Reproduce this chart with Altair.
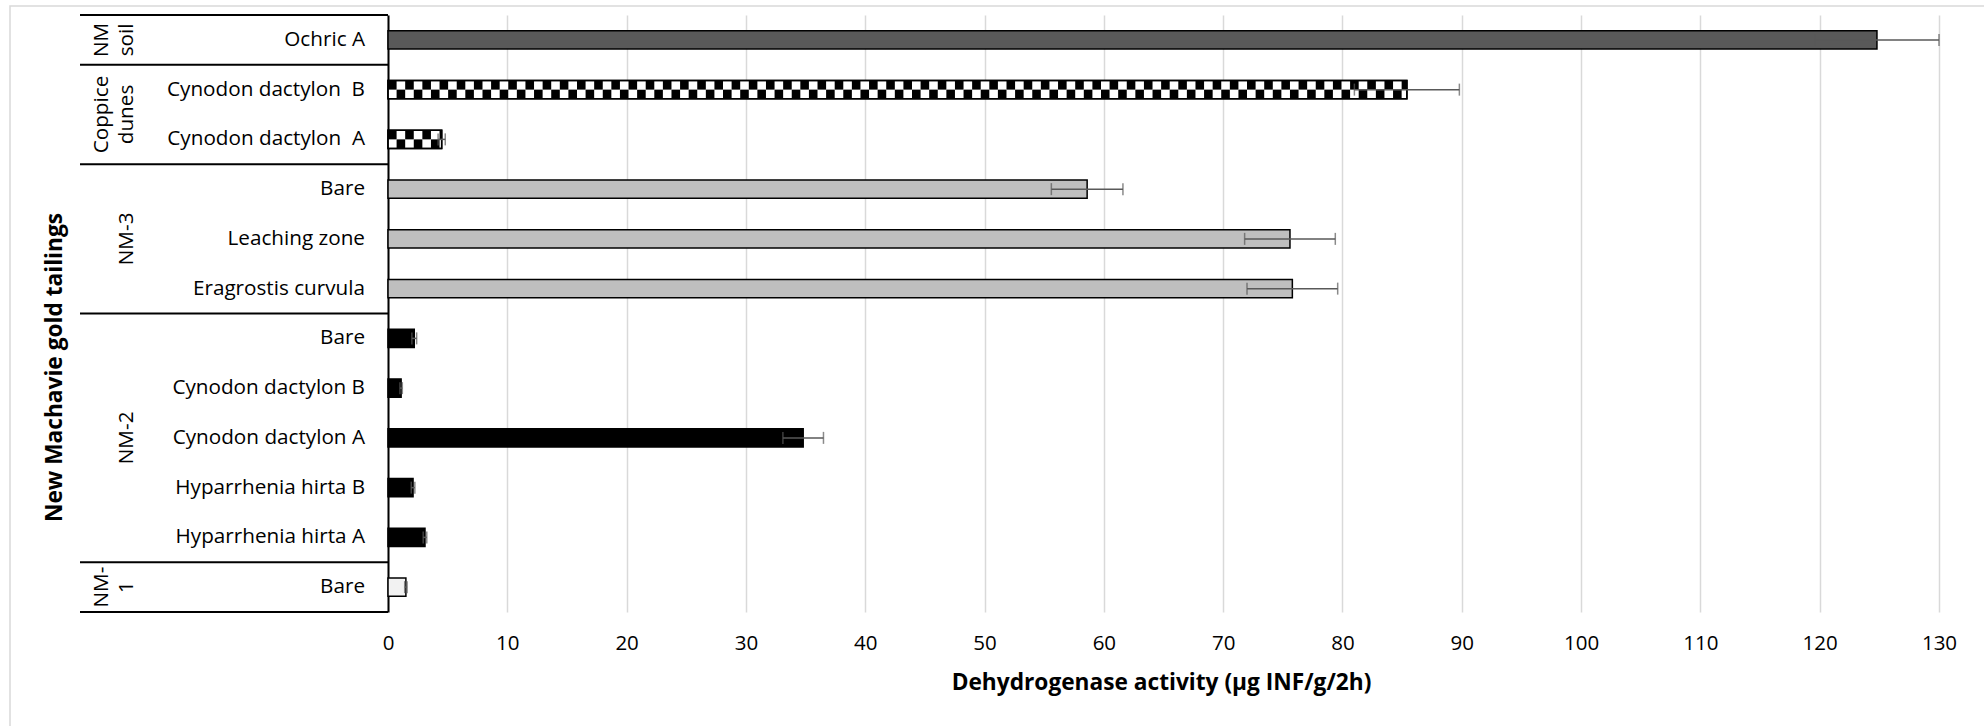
import math
import altair as alt
import pandas as pd

# ---------------- data ----------------
groups = ["NM soil", "Coppice dunes", "Coppice dunes", "NM-3", "NM-3", "NM-3",
          "NM-2", "NM-2", "NM-2", "NM-2", "NM-2", "NM-1"]
labels = ["Ochric A", "Cynodon dactylon\u00a0 B", "Cynodon dactylon\u00a0 A",
          "Bare", "Leaching zone", "Eragrostis curvula\u00a0",
          "Bare", "Cynodon dactylon B", "Cynodon dactylon A\u00a0",
          "Hyparrhenia hirta B\u00a0", "Hyparrhenia hirta A\u00a0", "Bare"]
values = [124.8, 85.4, 4.5, 58.6, 75.6, 75.8, 2.2, 1.1, 34.8, 2.1, 3.1, 1.5]
errors = [5.2, 4.4, 0.3, 3.0, 3.8, 3.8, 0.2, 0.1, 1.7, 0.15, 0.15, 0.1]
x_ticks = [0, 10, 20, 30, 40, 50, 60, 70, 80, 90, 100, 110, 120, 130]

group_names = ["NM soil", "Coppice dunes", "NM-3", "NM-2", "NM-1"]
group_fills = ["#595959", "#FFFFFF", "#BFBFBF", "#000000", "#F2F2F2"]
group_text = {"NM soil": ["NM", "soil"], "Coppice dunes": ["Coppice", "dunes"],
              "NM-3": ["NM-3"], "NM-2": ["NM-2"], "NM-1": ["NM-", "1"]}

FONT = "Open Sans"
W, H = 1551, 597

keys = [f"k{i:02d}" for i in range(len(labels))]
df = pd.DataFrame({
    "key": keys, "group": groups, "label": labels,
    "value": values, "err": errors,
})
df["lo"] = df["value"] - df["err"]
df["hi"] = df["value"] + df["err"]

# checkerboard cells for the coppice dune bars
step = 0.72
cells = []
for k, g, v in zip(keys, groups, values):
    if g != "Coppice dunes":
        continue
    n = math.ceil(v / step)
    for j in range(n):
        x0, x1 = j * step, min((j + 1) * step, v)
        for row in (0, 1):
            if (j + row) % 2 == 0:
                cells.append({"key": k, "x0": x0, "x1": x1, "row": row})
cells_df = pd.DataFrame(cells)

# group runs
runs = []
start = 0
for i in range(1, len(groups) + 1):
    if i == len(groups) or groups[i] != groups[start]:
        g = groups[start]
        runs.append({"group": g, "start": start, "end": i, "mid": (start + i) / 2})
        start = i
glines = []
for r in runs:
    lines = group_text[r["group"]]
    for li, t in enumerate(lines):
        glines.append({"group": r["group"], "mid": r["mid"], "txt": t,
                       "first_of_two": len(lines) > 1 and li == 0})
gdf = pd.DataFrame(glines)
bdf = pd.DataFrame({"b": [0] + [r["end"] for r in runs]})

# ---------------- encodings ----------------
yband = alt.Scale(domain=keys, paddingInner=0.63, paddingOuter=0.315)
yaxis = alt.Axis(labels=False, ticks=False, grid=False, domain=True,
                 domainColor="black", domainWidth=2,
                 title="New Machavie gold tailings", titleFont=FONT,
                 titleFontSize=22.7, titleFontWeight="bold", titleColor="black",
                 titleAngle=270, titleX=-334, titleY=352,
                 titleAlign="center", titleBaseline="middle")
yenc = alt.Y("key:N", sort=keys, scale=yband, axis=yaxis)

xscale = alt.Scale(domain=[0, 130], nice=False, zero=True)
xaxis = alt.Axis(values=x_ticks, grid=True, gridColor="#D9D9D9", gridWidth=1.5,
                 domain=False, ticks=False, labelFont=FONT, labelFontSize=20.5,
                 labelColor="black", labelPadding=31, labelBaseline="middle",
                 labelFlush=False,
                 title="Dehydrogenase activity (µg INF/g/2h)", titleFont=FONT,
                 titleFontSize=22.7, titleFontWeight="bold", titleColor="black",
                 titleX=773, titleY=70, titleBaseline="middle")

bars = alt.Chart(df).mark_bar(stroke="black", strokeWidth=1.5).encode(
    y=yenc,
    x=alt.X("value:Q", scale=xscale, axis=xaxis),
    fill=alt.Fill("group:N", scale=alt.Scale(domain=group_names, range=group_fills),
                  legend=None),
)

chk_top = alt.Chart(cells_df).transform_filter("datum.row == 0").mark_bar(
    size=9.2, yOffset=-4.6, color="black").encode(
    y=yenc, x=alt.X("x0:Q", scale=xscale), x2="x1:Q")
chk_bot = alt.Chart(cells_df).transform_filter("datum.row == 1").mark_bar(
    size=9.2, yOffset=4.6, color="black").encode(
    y=yenc, x=alt.X("x0:Q", scale=xscale), x2="x1:Q")

outline = alt.Chart(df).transform_filter("datum.group == 'Coppice dunes'").mark_bar(
    fillOpacity=0, stroke="black", strokeWidth=1.5).encode(
    y=yenc, x=alt.X("value:Q", scale=xscale))

err_rule = alt.Chart(df).mark_rule(color="#595959", strokeWidth=1.5).encode(
    y=yenc, x=alt.X("lo:Q", scale=xscale), x2="hi:Q")
cap_lo = alt.Chart(df).mark_tick(color="#595959", size=12, thickness=1.5).encode(
    y=yenc, x=alt.X("lo:Q", scale=xscale))
cap_hi = alt.Chart(df).mark_tick(color="#595959", size=12, thickness=1.5).encode(
    y=yenc, x=alt.X("hi:Q", scale=xscale))

cat_labels = alt.Chart(df).mark_text(
    align="right", baseline="middle", font=FONT, fontSize=20.7, color="black").encode(
    y=yenc, x=alt.value(-23), text="label:N")

layer_a = alt.layer(bars, chk_top, chk_bot, outline, err_rule, cap_lo, cap_hi, cat_labels)

yq = alt.Scale(domain=[0, len(labels)], reverse=True, nice=False, zero=False)
sep_rules = alt.Chart(bdf).mark_rule(color="black", strokeWidth=2).encode(
    y=alt.Y("b:Q", scale=yq, axis=None), x=alt.value(-308), x2=alt.value(0))
gtext_a = alt.Chart(gdf).transform_filter("datum.first_of_two").mark_text(
    angle=270, align="center", baseline="middle", font=FONT, fontSize=20.7,
    color="black").encode(
    y=alt.Y("mid:Q", scale=yq, axis=None), x=alt.value(-286), text="txt:N")
gtext_b = alt.Chart(gdf).transform_filter("!datum.first_of_two").mark_text(
    angle=270, align="center", baseline="middle", font=FONT, fontSize=20.7,
    color="black").encode(
    y=alt.Y("mid:Q", scale=yq, axis=None), x=alt.value(-261), text="txt:N")
border = alt.Chart(alt.Data(values=[{}])).mark_rect(
    fillOpacity=0, stroke="#D9D9D9", strokeWidth=1.5).encode(
    x=alt.value(-378), x2=alt.value(W + 200), y=alt.value(-9), y2=alt.value(H + 300))

layer_b = alt.layer(sep_rules, gtext_a, gtext_b, border)

chart = alt.layer(layer_a, layer_b).resolve_scale(y="independent").properties(
    width=W, height=H,
    padding={"left": 388, "top": 15, "right": 45, "bottom": 114},
    autosize=alt.AutoSizeParams(type="none"),
    background="white",
).configure_view(stroke=None)

chart.save("out.html", embed_options={"renderer": "svg", "actions": False})
